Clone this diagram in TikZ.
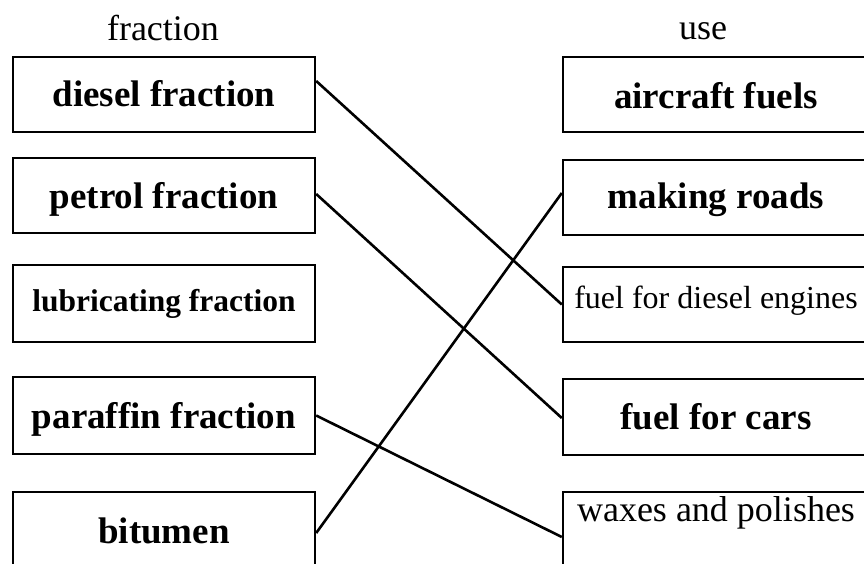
\documentclass[tikz,border=0pt]{standalone}
\usepackage{fontspec}
\setmainfont{Liberation Serif}
\begin{document}
\begin{tikzpicture}[x=1pt,y=-1pt,
  box/.style={draw, line width=2.4pt, rectangle, inner sep=0pt, text depth=6pt},
  lbox/.style={box, minimum width=302pt},
  rbox/.style={box, minimum width=306pt},
  raise/.style={text height=#1},
  big/.style={font=\bfseries\fontsize{37}{40}\selectfont},
  plain/.style={font=\fontsize{36}{40}\selectfont},
  link/.style={line width=2.6pt},
  head/.style={anchor=base, inner sep=0pt, font=\fontsize{36}{40}\selectfont}]
\fill[white] (0,0) rectangle (864,563);
\useasboundingbox (0,0) rectangle (864,563);

% column headings
\node[head] (hfrac) at (163,40) {fraction};
\node[head] (huse)  at (703,39) {use};

% fractions
\node[lbox, big, minimum height=75pt, raise=29pt] (diesel)   at (164,94.5)  {diesel fraction};
\node[lbox, big, minimum height=75pt, raise=31pt] (petrol)   at (164,195.5) {petrol fraction};
\node[lbox, minimum height=77pt, raise=21pt,
      font=\bfseries\fontsize{31.5}{36}\selectfont] (lubric) at (164,303.5) {lubricating fraction};
\node[lbox, big, minimum height=77pt, raise=31pt] (paraffin) at (164,415.5) {paraffin fraction};
\node[lbox, big, minimum height=76pt, raise=32pt] (bitumen)  at (164,530)   {bitumen};

% uses
\node[rbox, big, minimum height=75pt, raise=33pt] (aircraft) at (716,94.5)  {aircraft fuels};
\node[rbox, big, minimum height=75pt, raise=27pt] (roads)    at (716,197.5) {making roads};
\node[rbox, minimum height=75pt, raise=13pt,
      font=\fontsize{32}{36}\selectfont] (engines) at (716,304.5) {fuel for diesel engines};
\node[rbox, big, minimum height=76pt, raise=30pt] (cars)     at (716,417)   {fuel for cars};
\node[rbox, plain, minimum height=76pt, raise=8pt, text depth=26pt] (waxes) at (716,530) {waxes and polishes};

% matching lines
\draw[link] ([yshift=13.5pt]diesel.east) -- (engines.west);
\draw[link] ([yshift=1.5pt]petrol.east) -- ([yshift=-1pt]cars.west);
\draw[link] (paraffin.east) -- ([yshift=-7pt]waxes.west);
\draw[link] ([yshift=-3pt]bitumen.east) -- ([yshift=4.5pt]roads.west);
\end{tikzpicture}
\end{document}
